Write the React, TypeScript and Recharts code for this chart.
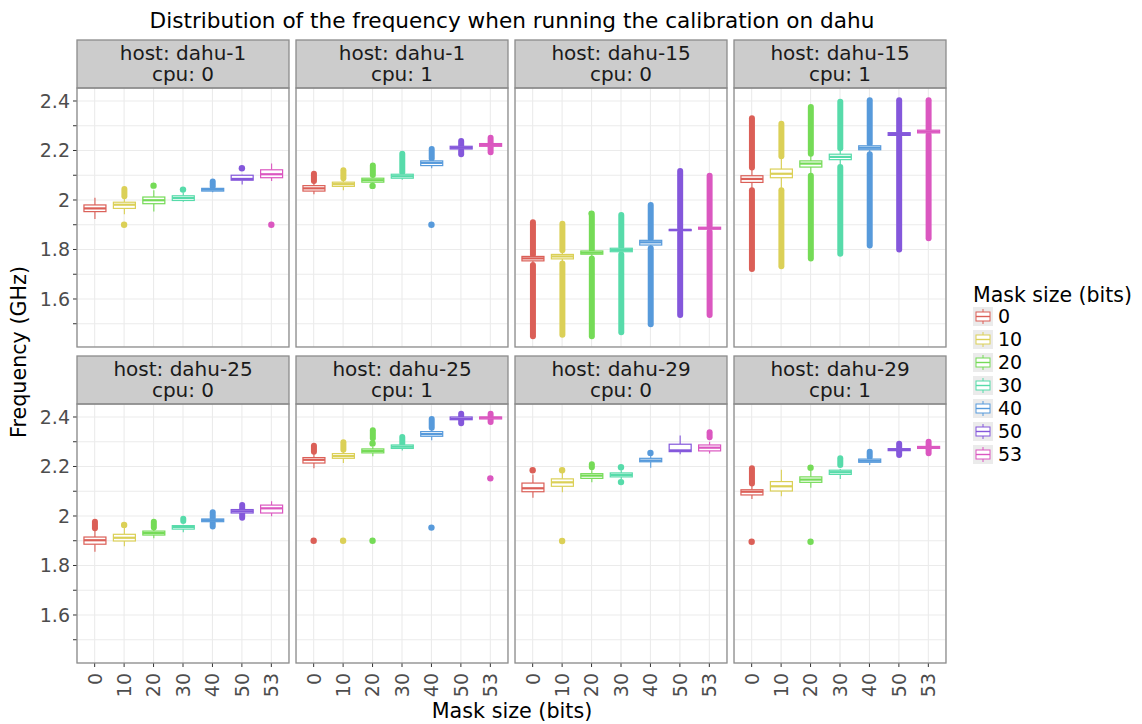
import React from 'react';
import { ComposedChart, Bar, Scatter, XAxis, YAxis, CartesianGrid } from 'recharts';

const masks = ['0', '10', '20', '30', '40', '50', '53'];
const maskColors = ['#db5f57', '#dbd057', '#75db57', '#57dbaa', '#579adb', '#8457db', '#db57c0'];
const maskIdx = [0, 1, 2, 3, 4, 5, 6];

const yTicks = [1.5, 1.6, 1.7, 1.8, 1.9, 2.0, 2.1, 2.2, 2.3, 2.4];
const yTickLabels = ['', '1.6', '', '1.8', '', '2', '', '2.2', '', '2.4'];
const yDomain = [1.406, 2.4525];

const hosts = ['dahu-1', 'dahu-1', 'dahu-15', 'dahu-15', 'dahu-25', 'dahu-25', 'dahu-29', 'dahu-29'];
const cpus = [0, 1, 0, 1, 0, 1, 0, 1];

// [lower whisker, q1, median, q3, upper whisker] per mask size
const boxDahu1Cpu0 = [
  [1.923, 1.953, 1.966, 1.98, 2.009],
  [1.942, 1.966, 1.981, 1.991, 2.007],
  [1.953, 1.985, 1.999, 2.012, 2.039],
  [1.993, 1.998, 2.008, 2.017, 2.03],
  [2.031, 2.036, 2.042, 2.047, 2.05],
  [2.063, 2.08, 2.085, 2.1, 2.102],
  [2.077, 2.09, 2.104, 2.122, 2.147],
];
const boxDahu1Cpu1 = [
  [2.023, 2.036, 2.047, 2.058, 2.074],
  [2.039, 2.055, 2.064, 2.072, 2.085],
  [2.061, 2.072, 2.08, 2.088, 2.098],
  [2.082, 2.088, 2.096, 2.104, 2.108],
  [2.128, 2.139, 2.15, 2.158, 2.166],
  [2.2, 2.206, 2.211, 2.217, 2.22],
  [2.214, 2.217, 2.222, 2.228, 2.23],
];
const boxDahu15Cpu0 = [
  [1.748, 1.754, 1.764, 1.772, 1.776],
  [1.752, 1.762, 1.772, 1.78, 1.79],
  [1.768, 1.781, 1.787, 1.794, 1.798],
  [1.782, 1.791, 1.798, 1.805, 1.809],
  [1.807, 1.818, 1.829, 1.837, 1.841],
  [1.87, 1.876, 1.879, 1.881, 1.885],
  [1.873, 1.882, 1.886, 1.89, 1.893],
];
const boxDahu15Cpu1 = [
  [2.042, 2.071, 2.085, 2.098, 2.128],
  [2.042, 2.09, 2.106, 2.125, 2.174],
  [2.101, 2.133, 2.147, 2.158, 2.185],
  [2.141, 2.163, 2.174, 2.185, 2.2],
  [2.19, 2.203, 2.211, 2.219, 2.225],
  [2.258, 2.261, 2.267, 2.272, 2.275],
  [2.266, 2.271, 2.276, 2.282, 2.284],
];
const boxDahu25Cpu0 = [
  [1.856, 1.886, 1.902, 1.915, 1.942],
  [1.878, 1.899, 1.912, 1.926, 1.953],
  [1.91, 1.923, 1.931, 1.939, 1.95],
  [1.934, 1.947, 1.956, 1.961, 1.965],
  [1.975, 1.977, 1.983, 1.988, 1.991],
  [2.01, 2.012, 2.019, 2.026, 2.027],
  [1.999, 2.012, 2.031, 2.044, 2.06],
];
const boxDahu25Cpu1 = [
  [2.193, 2.214, 2.227, 2.236, 2.258],
  [2.214, 2.233, 2.242, 2.252, 2.265],
  [2.241, 2.255, 2.263, 2.271, 2.28],
  [2.265, 2.273, 2.28, 2.287, 2.29],
  [2.306, 2.322, 2.331, 2.341, 2.347],
  [2.387, 2.389, 2.393, 2.4, 2.402],
  [2.39, 2.392, 2.397, 2.4, 2.403],
];
const boxDahu29Cpu0 = [
  [2.074, 2.098, 2.112, 2.133, 2.168],
  [2.096, 2.12, 2.136, 2.15, 2.174],
  [2.136, 2.152, 2.163, 2.171, 2.185],
  [2.148, 2.158, 2.166, 2.174, 2.185],
  [2.195, 2.219, 2.224, 2.233, 2.25],
  [2.249, 2.26, 2.265, 2.29, 2.325],
  [2.252, 2.263, 2.276, 2.287, 2.3],
];
const boxDahu29Cpu1 = [
  [2.069, 2.085, 2.098, 2.106, 2.125],
  [2.08, 2.101, 2.12, 2.139, 2.187],
  [2.114, 2.136, 2.147, 2.158, 2.182],
  [2.149, 2.168, 2.177, 2.185, 2.19],
  [2.206, 2.217, 2.223, 2.23, 2.235],
  [2.26, 2.264, 2.268, 2.272, 2.274],
  [2.27, 2.273, 2.278, 2.281, 2.283],
];

// runs of outliers packed so close they form a solid streak: [mask index, from, to]
const denseDahu1Cpu0 = [[1, 2.015, 2.044], [4, 2.055, 2.075]];
const denseDahu1Cpu1 = [
  [0, 2.077, 2.106], [1, 2.088, 2.12], [2, 2.101, 2.139], [3, 2.112, 2.187], [4, 2.168, 2.206],
  [5, 2.221, 2.238], [5, 2.185, 2.199], [6, 2.231, 2.251], [6, 2.193, 2.213],
];
const denseDahu15Cpu0 = [
  [0, 1.779, 1.91], [0, 1.449, 1.737], [1, 1.797, 1.904], [1, 1.455, 1.743],
  [2, 1.8, 1.935], [2, 1.449, 1.764], [3, 1.811, 1.939], [3, 1.466, 1.78],
  [4, 1.843, 1.98], [4, 1.498, 1.805], [5, 1.887, 2.117], [5, 1.535, 1.869],
  [6, 1.895, 2.098], [6, 1.535, 1.872],
];
const denseDahu15Cpu1 = [
  [0, 2.131, 2.33], [0, 1.721, 2.039], [1, 2.177, 2.308], [1, 1.732, 2.039],
  [2, 2.187, 2.376], [2, 1.764, 2.098], [3, 2.209, 2.397], [3, 1.783, 2.133],
  [4, 2.227, 2.403], [4, 1.816, 2.185], [5, 2.277, 2.403], [5, 1.8, 2.256],
  [6, 2.286, 2.403], [6, 1.845, 2.263],
];
const denseDahu25Cpu0 = [
  [0, 1.95, 1.977], [2, 1.953, 1.977], [3, 1.98, 1.989], [4, 1.993, 2.015], [4, 1.958, 1.972],
  [5, 2.029, 2.044], [5, 1.993, 2.008],
];
const denseDahu25Cpu1 = [
  [0, 2.26, 2.284], [1, 2.268, 2.298], [2, 2.314, 2.346], [3, 2.292, 2.319], [4, 2.357, 2.392],
  [5, 2.404, 2.413], [5, 2.375, 2.386], [6, 2.405, 2.413], [6, 2.38, 2.389],
];
const denseDahu29Cpu0 = [[2, 2.197, 2.209], [6, 2.318, 2.338]];
const denseDahu29Cpu1 = [
  [0, 2.131, 2.193], [3, 2.206, 2.233], [4, 2.238, 2.26], [5, 2.275, 2.292], [5, 2.246, 2.262],
  [6, 2.285, 2.3], [6, 2.254, 2.27],
];

// single outliers: [mask index, value]
const ptsDahu1Cpu0 = [[1, 1.9], [2, 2.058], [3, 2.042], [5, 2.128], [6, 1.9]];
const ptsDahu1Cpu1 = [[2, 2.057], [4, 1.9]];
const ptsDahu15Cpu0 = [[2, 1.945]];
const ptsDahu15Cpu1 = [];
const ptsDahu25Cpu0 = [[1, 1.964]];
const ptsDahu25Cpu1 = [[0, 1.9], [1, 1.9], [2, 1.9], [2, 2.293], [4, 1.953], [6, 2.152]];
const ptsDahu29Cpu0 = [[0, 2.185], [1, 2.185], [1, 1.899], [3, 2.197], [3, 2.137], [4, 2.255]];
const ptsDahu29Cpu1 = [[0, 1.896], [2, 2.195], [2, 1.896]];

const panelBoxes = [boxDahu1Cpu0, boxDahu1Cpu1, boxDahu15Cpu0, boxDahu15Cpu1, boxDahu25Cpu0, boxDahu25Cpu1, boxDahu29Cpu0, boxDahu29Cpu1];
const panelDense = [denseDahu1Cpu0, denseDahu1Cpu1, denseDahu15Cpu0, denseDahu15Cpu1, denseDahu25Cpu0, denseDahu25Cpu1, denseDahu29Cpu0, denseDahu29Cpu1];
const panelPoints = [ptsDahu1Cpu0, ptsDahu1Cpu1, ptsDahu15Cpu0, ptsDahu15Cpu1, ptsDahu25Cpu0, ptsDahu25Cpu1, ptsDahu29Cpu0, ptsDahu29Cpu1];

const font = '"DejaVu Sans", Verdana, sans-serif';
const colLeft = [77, 296, 515, 734];
const rowTop = [88, 404];
const panelW = 212;
const panelH = 259;
const stripH = 48;
const yAxisW = 77;
const xAxisH = 50;
const borderColor = '#8c8c8c';

function BoxShape(props: any) {
  const { x, y, width, height, payload } = props;
  if (x == null || y == null) return null;
  const top = Math.min(y, y + height);
  const bottom = Math.max(y, y + height);
  // bar spans [lo, hi]; map other stats along the same linear y scale
  const px = (v: number) => top + ((payload.hi - v) / (payload.hi - payload.lo)) * (bottom - top);
  const cx = x + width / 2;
  const c = payload.color;
  return (
    <g>
      {payload.dense.map((d: number[], i: number) => {
        const a = px(d[1]);
        const b = px(d[0]);
        return <rect key={i} x={cx - 3} y={a - 3} width={6} height={b - a + 6} rx={3} fill={c} />;
      })}
      <line x1={cx} x2={cx} y1={top} y2={px(payload.q3)} stroke={c} strokeWidth={1.1} />
      <line x1={cx} x2={cx} y1={px(payload.q1)} y2={bottom} stroke={c} strokeWidth={1.1} />
      <rect x={x} y={px(payload.q3)} width={width} height={Math.max(px(payload.q1) - px(payload.q3), 0.5)} fill="#ffffff" stroke={c} strokeWidth={1.2} />
      <line x1={x} x2={x + width} y1={px(payload.med)} y2={px(payload.med)} stroke={c} strokeWidth={2.2} />
    </g>
  );
}

function OutlierDot(props: any) {
  const { cx, cy, payload } = props;
  if (cx == null || cy == null) return null;
  return <circle cx={cx} cy={cy} r={3.2} fill={payload.color} />;
}

function MaskTick(props: any) {
  const { x, y, payload } = props;
  return (
    <g transform={`translate(${x},${y})`}>
      <text transform="rotate(-90)" x={-4} y={0} dy="0.36em" textAnchor="end" fill="#4d4d4d" fontSize={19} fontFamily={font}>
        {masks[payload.value]}
      </text>
    </g>
  );
}

function FacetPanel({ index }: { index: number }) {
  const col = index % 4;
  const row = Math.floor(index / 4);
  const showY = col === 0;
  const showX = row === 1;
  const left = colLeft[col] - (showY ? yAxisW : 0);
  const width = panelW + (showY ? yAxisW : 0);
  const height = panelH + (showX ? xAxisH : 0);

  const rows = maskIdx.map((i) => {
    const [lo, q1, med, q3, hi] = panelBoxes[index][i];
    return {
      idx: i, lo, q1, med, q3, hi,
      color: maskColors[i],
      dense: panelDense[index].filter((d) => d[0] === i).map((d) => [d[1], d[2]]),
    };
  });
  const pts = panelPoints[index].map(([i, v]) => ({ idx: i, v, color: maskColors[i] }));

  return (
    <div style={{ position: 'absolute', left, top: rowTop[row] }}>
      <ComposedChart width={width} height={height} data={rows} margin={{ top: 0, right: 0, bottom: 0, left: 0 }}>
        <CartesianGrid stroke="#ebebeb" strokeWidth={1.1} />
        <XAxis
          type="number"
          dataKey="idx"
          domain={[-0.6, 6.6]}
          ticks={maskIdx}
          interval={0}
          allowDataOverflow
          hide={!showX}
          height={xAxisH}
          axisLine={false}
          tickLine={{ stroke: '#333333' }}
          tickSize={4}
          tickMargin={2}
          tick={<MaskTick />}
        />
        <YAxis
          type="number"
          domain={yDomain}
          ticks={yTicks}
          interval={0}
          allowDataOverflow
          hide={!showY}
          width={yAxisW}
          axisLine={false}
          tickLine={{ stroke: '#333333' }}
          tickSize={4}
          tickMargin={3}
          tickFormatter={(v: number) => yTickLabels[yTicks.findIndex((t) => Math.abs(t - v) < 1e-6)] ?? ''}
          tick={{ fill: '#4d4d4d', fontSize: 19, fontFamily: font }}
        />
        <Bar dataKey={(d: any) => [d.lo, d.hi]} barSize={22} shape={<BoxShape />} isAnimationActive={false} />
        <Scatter data={pts} dataKey="v" shape={<OutlierDot />} isAnimationActive={false} />
      </ComposedChart>
    </div>
  );
}

function Overlay() {
  return (
    <svg width={1142} height={724} style={{ position: 'absolute', left: 0, top: 0, pointerEvents: 'none' }} fontFamily={font}>
      <text x={512} y={28} textAnchor="middle" fontSize={21.6} fill="#000">
        Distribution of the frequency when running the calibration on dahu
      </text>
      {hosts.map((h, i) => {
        const col = i % 4;
        const row = Math.floor(i / 4);
        const x0 = colLeft[col];
        const y0 = rowTop[row];
        return (
          <g key={i}>
            <rect x={x0} y={y0 - stripH} width={panelW} height={stripH} fill="#cccccc" stroke={borderColor} strokeWidth={1.3} />
            <text x={x0 + panelW / 2} y={y0 - 28.5} textAnchor="middle" fontSize={20} fill="#1a1a1a">{`host: ${h}`}</text>
            <text x={x0 + panelW / 2} y={y0 - 7.5} textAnchor="middle" fontSize={20} fill="#1a1a1a">{`cpu: ${cpus[i]}`}</text>
            <rect x={x0} y={y0} width={panelW} height={panelH} fill="none" stroke={borderColor} strokeWidth={1.3} />
          </g>
        );
      })}
      <text transform="translate(26,352) rotate(-90)" textAnchor="middle" fontSize={20.7} fill="#000">Frequency (GHz)</text>
      <text x={512} y={718} textAnchor="middle" fontSize={20.7} fill="#000">Mask size (bits)</text>
      <text x={973} y={302} fontSize={20.5} fill="#000">Mask size (bits)</text>
      {masks.map((m, i) => {
        const ky = 307 + i * 23;
        const c = maskColors[i];
        return (
          <g key={m}>
            <rect x={973} y={ky} width={20} height={19} fill="#ebebeb" />
            <line x1={983} x2={983} y1={ky + 2} y2={ky + 17} stroke={c} strokeWidth={1} />
            <rect x={976} y={ky + 5} width={14} height={9} fill="#ffffff" stroke={c} strokeWidth={1} />
            <line x1={976} x2={990} y1={ky + 9.5} y2={ky + 9.5} stroke={c} strokeWidth={1.4} />
            <text x={998} y={ky + 15.5} fontSize={19} fill="#000">{m}</text>
          </g>
        );
      })}
    </svg>
  );
}

export default function App() {
  return (
    <div style={{ position: 'absolute', left: 0, top: 0, width: 1142, height: 724, background: '#ffffff', fontFamily: font }}>
      {[0, 1, 2, 3, 4, 5, 6, 7].map((i) => (
        <FacetPanel key={i} index={i} />
      ))}
      <Overlay />
    </div>
  );
}
